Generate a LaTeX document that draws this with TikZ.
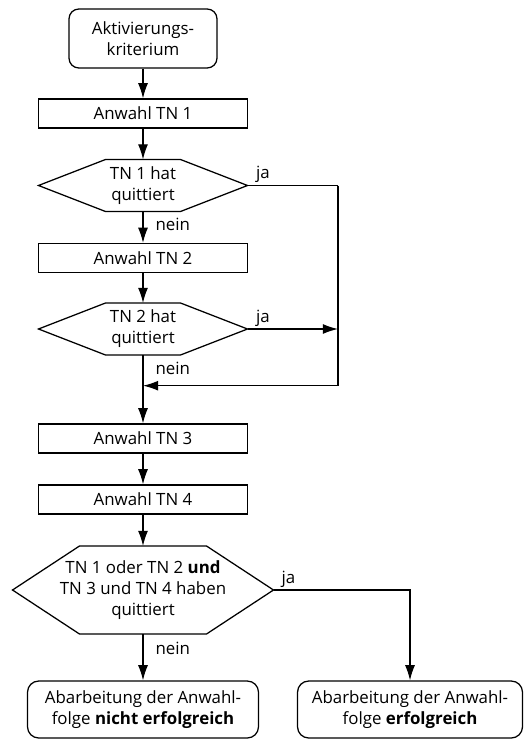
\documentclass[tikz,border=0pt]{standalone}
\usepackage{fontspec}
\setmainfont{Open Sans}
\usetikzlibrary{arrows.meta,positioning}
\tikzset{
  basic/.style    = {font=\fontsize{12}{15}\selectfont, align=center, inner sep=0pt},
  startbox/.style = {basic, draw, rounded corners=7pt, minimum width=3.7cm,
                     minimum height=1.475cm},
  taskbox/.style  = {basic, draw, rectangle, minimum width=5.225cm,
                     minimum height=0.725cm},
  query/.style    = {basic, rectangle, outer sep=0pt, minimum width=5.225cm,
                     minimum height=1.3cm},
  stopbox/.style  = {basic, draw, rounded corners=8pt, minimum height=1.425cm},
  lbl/.style      = {font=\fontsize{12}{15}\selectfont, inner sep=1.5pt}
}

\begin{document}
\begin{tikzpicture}[
  line width=0.9pt,
  >={Latex[length=3.8mm,width=2.5mm]}]
\useasboundingbox (0,0) rectangle (13.15,-18.475);

% Start
\node[startbox] (start) at (3.575,-0.9625) {Aktivierungs-\\kriterium};

% Anwahl der Teilnehmer und Abfragen
\node[taskbox, below of = start, node distance=1.875cm] (tn1) {Anwahl TN 1};
\node[query, below of = tn1, node distance=1.8cm] (q1) {TN 1 hat\\quittiert};
\node[taskbox, below of = q1, node distance=1.8125cm] (tn2) {Anwahl TN 2};
\node[query, below of = tn2, node distance=1.775cm] (q2) {TN 2 hat\\quittiert};
\node[taskbox, below of = q2, node distance=2.7375cm] (tn3) {Anwahl TN 3};
\node[taskbox, below of = tn3, node distance=1.525cm] (tn4) {Anwahl TN 4};
\node[query, minimum width=6.525cm, minimum height=2.2cm,
      below of = tn4, node distance=2.2625cm] (q3)
  {TN 1 oder TN 2 \textbf{und}\\TN 3 und TN 4 haben\\quittiert};

% Ergebnis
\node[stopbox, minimum width=5.775cm, below of = q3, node distance=2.9875cm] (nok)
  {Abarbeitung der Anwahl-\\folge \textbf{nicht erfolgreich}};
\node[stopbox, minimum width=5.625cm, right of = nok, node distance=6.675cm] (ok)
  {Abarbeitung der Anwahl-\\folge \textbf{erfolgreich}};

% Hilfspunkte fuer die ja-Zweige
\coordinate[right of = q1, node distance=4.875cm] (r1);
\coordinate[right of = q2, node distance=4.875cm] (r2);
\coordinate[below of = q2, node distance=1.4175cm] (m);

% Sechsecke der Abfragen
\foreach \q in {q1,q2,q3}
  \draw (\q.west) -- ([xshift=1.675cm]\q.north west)
    -- ([xshift=-1.675cm]\q.north east) -- (\q.east)
    -- ([xshift=-1.675cm]\q.south east) -- ([xshift=1.675cm]\q.south west) -- cycle;

% Hauptpfad
\draw[->] (start) -- (tn1);
\draw[->] (tn1) -- (q1);
\draw[->] (q1) -- node[lbl, right, pos=0.4, xshift=7pt] {nein} (tn2);
\draw[->] (tn2) -- (q2);
\draw[->] (q2) -- node[lbl, right, pos=0.19, xshift=7pt] {nein} (tn3);
\draw[->] (tn3) -- (tn4);
\draw[->] (tn4) -- (q3);
\draw[->] (q3) -- node[lbl, right, pos=0.3, xshift=7pt] {nein} (nok);

% ja-Zweige
\draw (q1.east) -- node[lbl, above, pos=0.17] {ja} (r1);
\draw[->] (r1) |- (m);
\draw[->] (q2.east) -- node[lbl, above, pos=0.17] {ja} (r2);
\draw[->] (q3.east) -| node[lbl, above, pos=0.055] {ja} (ok);
\end{tikzpicture}
\end{document}
